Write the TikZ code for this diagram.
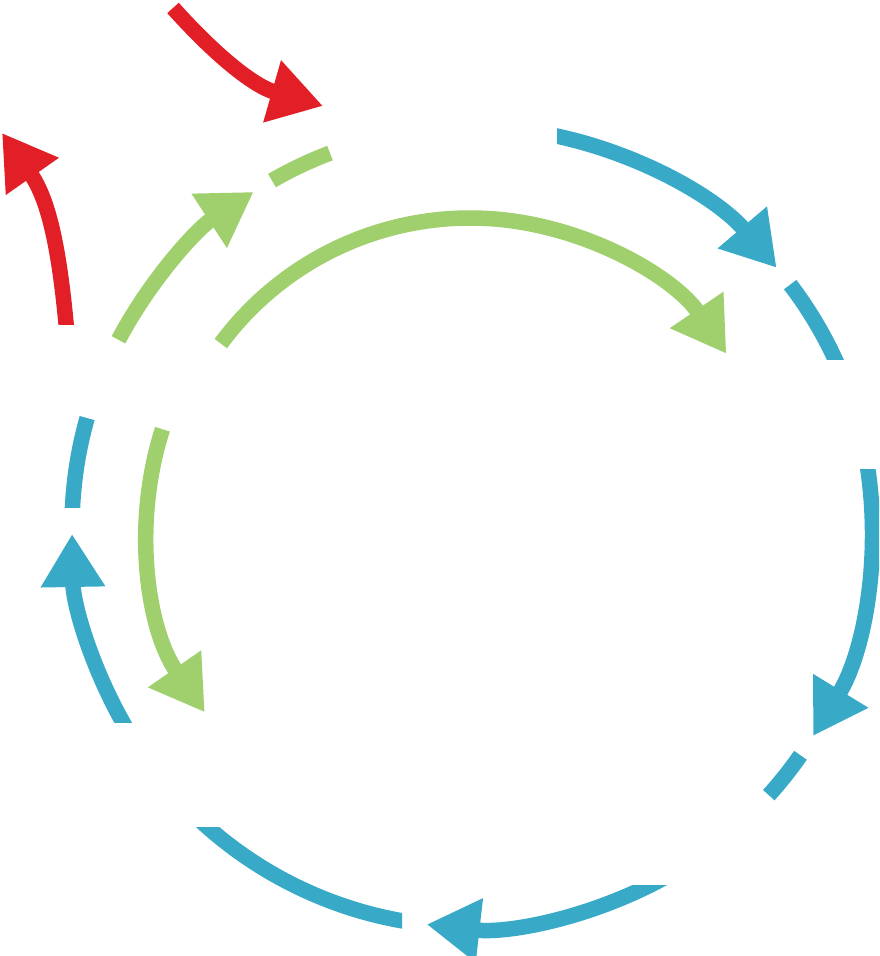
\documentclass[tikz,border=0pt]{standalone}
\usetikzlibrary{arrows.meta}
\definecolor{cblue}{RGB}{56,170,199}
\definecolor{cgreen}{RGB}{160,208,110}
\definecolor{cred}{RGB}{226,30,38}
\begin{document}
\begin{tikzpicture}[x=0.02cm,y=0.02cm,
  seg/.style={line width=0.31cm},
  arr/.style={seg,-{Triangle[length=1.06cm,width=1.22cm]}}]
\useasboundingbox (0,0) rectangle (879,956);
\coordinate (O) at (472,429);
\coordinate (I) at (470,428);
% outer ring, blue
\begin{scope}
  \clip (557,0) rectangle (879,956);
  \draw[arr,cblue] (O) ++(80:400) arc[start angle=80,end angle=40.4,radius=400];
\end{scope}
\begin{scope}
  \clip (0,596) rectangle (879,956);
  \draw[seg,cblue] (O) ++(37.3:400) arc[start angle=37.3,end angle=22,radius=400];
\end{scope}
\begin{scope}
  \clip (0,0) rectangle (879,486);
  \draw[arr,cblue] (O) ++(11:400) arc[start angle=11,end angle=-31.5,radius=400];
\end{scope}
\draw[seg,cblue] (O) ++(-34.8:400) arc[start angle=-34.8,end angle=-42.1,radius=400];
\begin{scope}
  \clip (0,0) rectangle (879,70);
  \draw[arr,cblue] (O) ++(-61:400) arc[start angle=-61,end angle=-96.5,radius=400];
\end{scope}
\begin{scope}
  \clip (0,0) rectangle (402,128);
  \draw[seg,cblue] (O) ++(-97:400) arc[start angle=-97,end angle=-134,radius=400];
\end{scope}
\begin{scope}
  \clip (0,233) rectangle (879,956);
  \draw[arr,cblue] (O) ++(212:400) arc[start angle=212,end angle=181,radius=400];
\end{scope}
\begin{scope}
  \clip (0,448) rectangle (879,956);
  \draw[seg,cblue] (O) ++(180:400) arc[start angle=180,end angle=164.2,radius=400];
\end{scope}
% outer ring, green
\draw[arr,cgreen] (O) ++(152.1:400) arc[start angle=152.1,end angle=123.1,radius=400];
\draw[seg,cgreen] (O) ++(120:400) arc[start angle=120,end angle=110.8,radius=400];
% inner green arcs
\draw[arr,cgreen] (I) ++(143.5:310) arc[start angle=143.5,end angle=34.2,radius=310];
\draw[arr,cgreen] (I) ++(162.2:323) arc[start angle=162.2,end angle=214.8,radius=323];
% red arrows
\coordinate (r1a) at (173,948);
\coordinate (r1b) at (323,850);
\coordinate (r2a) at (67,622);
\coordinate (r2b) at (2,823);
\draw[arr,cred] (r1a) to[out=-48,in=164] (r1b);
\begin{scope}
  \clip (0,631) rectangle (879,956);
  \draw[arr,cred] (r2a) to[out=95,in=-55] (r2b);
\end{scope}
\end{tikzpicture}
\end{document}
